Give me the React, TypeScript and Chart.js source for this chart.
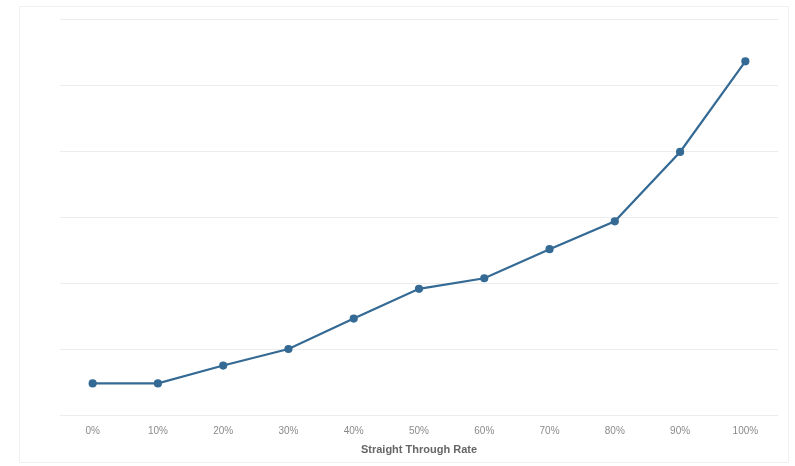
import React, { useEffect, useRef } from "react";
import { Chart, registerables } from "chart.js";

Chart.register(...registerables);

const categories = ["0%", "10%", "20%", "30%", "40%", "50%", "60%", "70%", "80%", "90%", "100%"];
const values = [4.9, 4.9, 7.6, 10.1, 14.7, 19.2, 20.8, 25.2, 29.4, 39.9, 53.6];
const axisTitle = "Straight Through Rate";

export default function App() {
  const ref = useRef<HTMLCanvasElement | null>(null);
  useEffect(() => {
    document.body.style.margin = "0";
    const ctx = ref.current;
    if (!ctx) return;
    const chart = new Chart(ctx, {
      type: "line",
      data: {
        labels: categories,
        datasets: [
          {
            data: values,
            borderColor: "#346a94",
            backgroundColor: "#346a94",
            borderWidth: 2.2,
            pointRadius: 3,
            pointBackgroundColor: "#346a94",
            pointBorderColor: "#346a94",
            tension: 0,
          },
        ],
      },
      options: {
        animation: false,
        responsive: false,
        maintainAspectRatio: false,
        layout: { padding: { left: 60, right: 17, top: 19, bottom: 9 } },
        plugins: { legend: { display: false }, tooltip: { enabled: false } },
        scales: {
          x: {
            offset: true,
            grid: { display: false },
            border: { display: false },
            ticks: {
              color: "#8a8a8a",
              font: { family: "Liberation Sans, Arial, sans-serif", size: 10 },
              padding: 1,
            },
            title: {
              display: true,
              text: axisTitle,
              color: "#666",
              font: { family: "Liberation Sans, Arial, sans-serif", size: 11, weight: "bold" },
              padding: { top: 6, bottom: 0 },
            },
          },
          y: {
            min: 0,
            max: 60,
            ticks: { display: false, stepSize: 10 },
            border: { display: false },
            grid: { color: "#ececec", lineWidth: 1, drawTicks: false },
          },
        },
      },
    });
    return () => chart.destroy();
  }, []);
  return (
    <div style={{ position: "relative", width: 795, height: 466, background: "#fff" }}>
      <div
        style={{
          position: "absolute",
          left: 19,
          top: 6,
          width: 770,
          height: 457,
          border: "1px solid #f0f0f0",
          boxSizing: "border-box",
        }}
      />
      <canvas ref={ref} width={795} height={466} style={{ position: "absolute", left: 0, top: 0 }} />
    </div>
  );
}
